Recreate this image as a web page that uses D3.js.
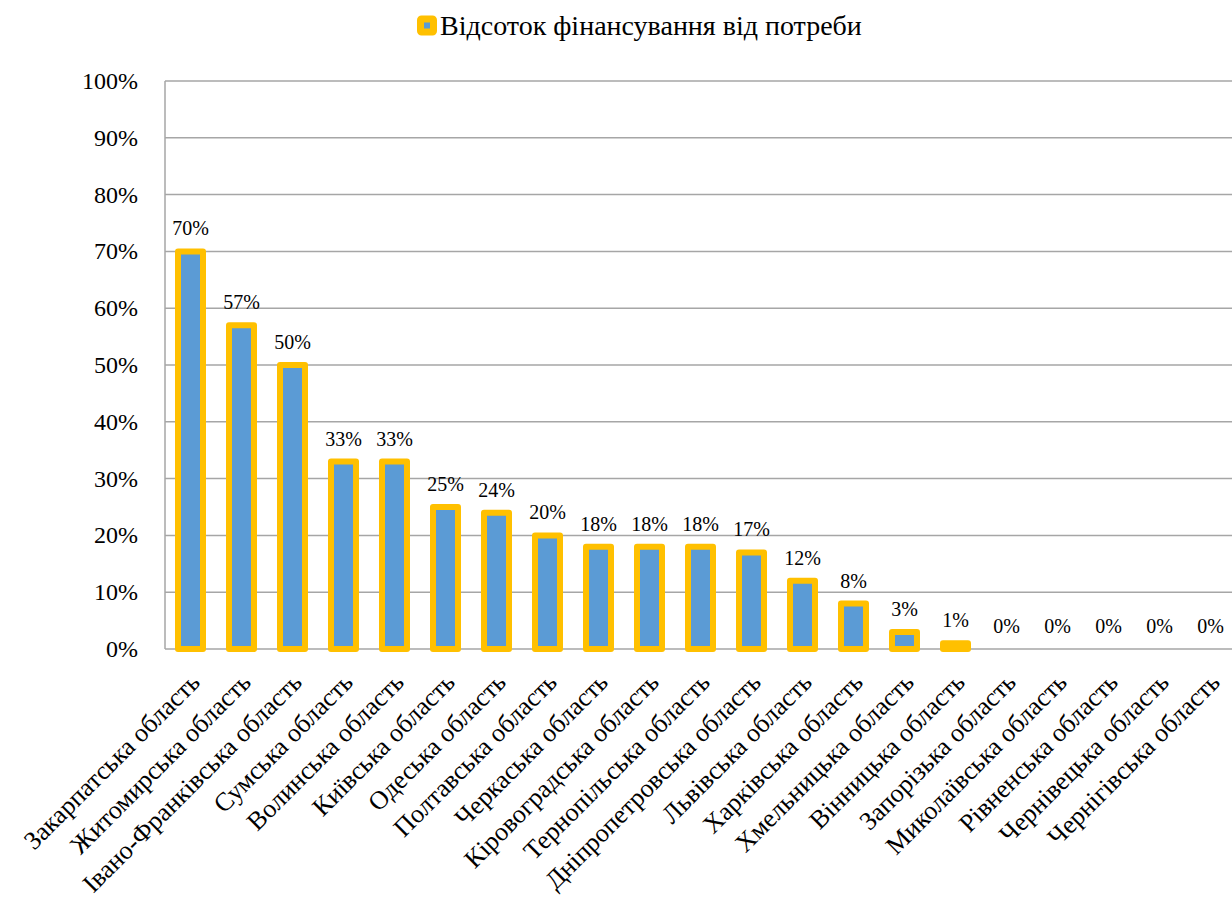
<!DOCTYPE html>
<html><head><meta charset="utf-8">
<script src="https://cdn.jsdelivr.net/npm/d3@7"></script>
<style>body{margin:0;background:#fff}svg{display:block}</style>
</head><body>
<script>
const categories = ["Закарпатська область","Житомирська область","Івано-Франківська область","Сумська область","Волинська область","Київська область","Одеська область","Полтавська область","Черкаська область","Кіровоградська область","Тернопільська область","Дніпропетровська область","Львівська область","Харківська область","Хмельницька область","Вінницька область","Запорізька область","Миколаївська область","Рівненська область","Чернівецька область","Чернігівська область"];
const values = [0.70,0.57,0.50,0.33,0.33,0.25,0.24,0.20,0.18,0.18,0.18,0.17,0.12,0.08,0.03,0.01,0,0,0,0,0];
const seriesName = "Відсоток фінансування від потреби";
const yTicks = [0,0.1,0.2,0.3,0.4,0.5,0.6,0.7,0.8,0.9,1.0];

const FONT = "'Liberation Serif'";
const W=1232,H=898;
const svg=d3.select("body").append("svg").attr("width",W).attr("height",H);
const x=d3.scaleBand().domain(categories).range([165,1236]).paddingInner(0).paddingOuter(0);
const y=d3.scaleLinear().domain([0,1]).range([649,81]);
const fmt=d3.format(".0%");

// gridlines
svg.append("g").selectAll("line").data(yTicks).join("line")
  .attr("x1",165).attr("x2",W).attr("y1",d=>y(d)).attr("y2",d=>y(d))
  .attr("stroke","#a6a6a6").attr("stroke-width",1.5);
// y axis line
svg.append("line").attr("x1",165).attr("x2",165).attr("y1",y(1)).attr("y2",y(0))
  .attr("stroke","#a6a6a6").attr("stroke-width",1.5);
// y tick labels
svg.append("g").selectAll("text").data(yTicks).join("text")
  .style("font-family",FONT)
  .attr("x",138).attr("y",d=>y(d)).attr("dy","0.33em").attr("text-anchor","end")
  .attr("font-size",24).attr("fill","#000").text(d=>fmt(d));

// bars
const bw=25;
svg.append("g").selectAll("rect").data(categories.map((c,i)=>({c,v:values[i]})).filter(d=>d.v>0)).join("rect")
  .attr("x",d=>x(d.c)+x.bandwidth()/2-bw/2).attr("width",bw)
  .attr("y",d=>y(d.v)).attr("height",d=>y(0)-y(d.v))
  .attr("fill","#5b9bd5").attr("stroke","#ffc000").attr("stroke-width",6).attr("stroke-linejoin","round");

// data labels
svg.append("g").selectAll("text").data(categories.map((c,i)=>({c,v:values[i]}))).join("text")
  .style("font-family",FONT)
  .attr("x",d=>x(d.c)+x.bandwidth()/2).attr("y",d=>y(d.v)-16).attr("text-anchor","middle")
  .attr("font-size",20).attr("fill","#000").text(d=>fmt(d.v));

// category labels
svg.append("g").selectAll("text").data(categories).join("text")
  .style("font-family",FONT)
  .attr("text-anchor","end").attr("font-size",26).attr("fill","#000")
  .attr("transform",d=>`translate(${x(d)+x.bandwidth()/2-2},${671}) rotate(-45)`)
  .attr("dy","0.7em")
  .text(d=>d);

// legend
const lg=svg.append("g");
lg.append("rect").attr("x",420.5).attr("y",19).attr("width",13).attr("height",13).attr("rx",1)
  .attr("fill","#5b9bd5").attr("stroke","#ffc000").attr("stroke-width",7).attr("stroke-linejoin","round");
lg.append("text").style("font-family",FONT).attr("x",440).attr("y",35).attr("font-size",28).attr("fill","#000").text(seriesName);
</script>
</body></html>
